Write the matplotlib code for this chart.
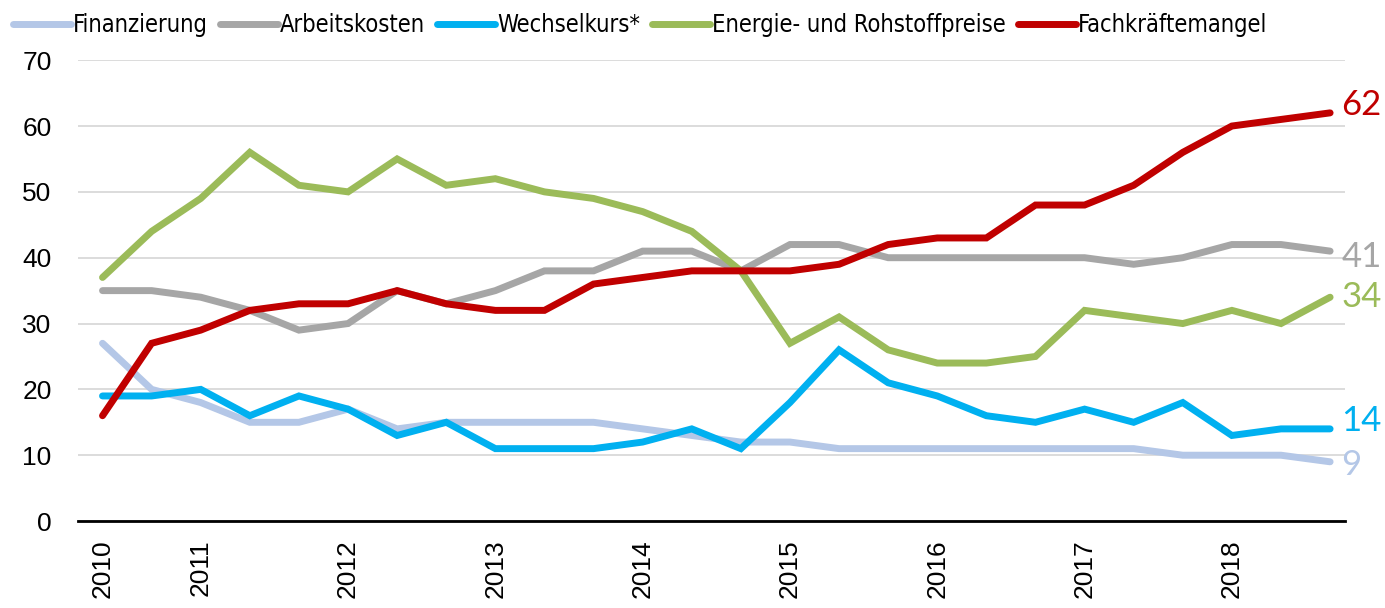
import matplotlib.pyplot as plt
import numpy as np

# survey waves, three per year (2010 has two)
year_labels = ['2010', '2011', '2012', '2013', '2014', '2015', '2016', '2017', '2018']
year_positions = [0, 2, 5, 8, 11, 14, 17, 20, 23]

finanzierung = [27, 20, 18, 15, 15, 17, 14, 15, 15, 15, 15, 14, 13, 12, 12, 11, 11, 11, 11, 11, 11, 11, 10, 10, 10, 9]
arbeitskosten = [35, 35, 34, 32, 29, 30, 35, 33, 35, 38, 38, 41, 41, 38, 42, 42, 40, 40, 40, 40, 40, 39, 40, 42, 42, 41]
wechselkurs = [19, 19, 20, 16, 19, 17, 13, 15, 11, 11, 11, 12, 14, 11, 18, 26, 21, 19, 16, 15, 17, 15, 18, 13, 14, 14]
energie = [37, 44, 49, 56, 51, 50, 55, 51, 52, 50, 49, 47, 44, 38, 27, 31, 26, 24, 24, 25, 32, 31, 30, 32, 30, 34]
fachkraefte = [16, 27, 29, 32, 33, 33, 35, 33, 32, 32, 36, 37, 38, 38, 38, 39, 42, 43, 43, 48, 48, 51, 56, 60, 61, 62]

series = [
    ('Finanzierung', finanzierung, '#B4C7E7', -2),
    ('Arbeitskosten', arbeitskosten, '#A6A6A6', -4),
    ('Wechselkurs*', wechselkurs, '#00B0F0', 6),
    ('Energie- und Rohstoffpreise', energie, '#9BBB59', 0),
    ('Fachkräftemangel', fachkraefte, '#C00000', 6),
]

fig = plt.figure(figsize=(13.85, 6.08), dpi=100)
ax = fig.add_axes([0.0563, 0.143, 0.9147, 0.758])

x = np.arange(len(fachkraefte))
for name, values, color, label_shift in series:
    ax.plot(x, values, color=color, lw=5, solid_capstyle='round', solid_joinstyle='miter', label=name)
    ax.annotate(str(values[-1]), (x[-1], values[-1]), xytext=(8, label_shift), textcoords='offset points',
                color=color, fontsize=25, va='center', ha='left', family=['Lato', 'DejaVu Sans'],
                annotation_clip=False)

ax.set_xlim(-0.5, 25.3)
ax.set_ylim(0, 70)
ax.set_yticks(range(0, 71, 10))
ax.set_xticks(year_positions)
ax.set_xticklabels(year_labels, rotation=90, family=['Liberation Sans', 'DejaVu Sans'], fontsize=19)
for lbl in ax.get_yticklabels():
    lbl.set_fontsize(19)
    lbl.set_family(['Liberation Sans', 'DejaVu Sans'])
ax.tick_params(axis='both', length=0)
ax.tick_params(axis='y', pad=19)
ax.tick_params(axis='x', pad=13)

ax.grid(axis='y', color='#D9D9D9', lw=1.3)
ax.set_axisbelow(True)
for side in ['top', 'right', 'left']:
    ax.spines[side].set_visible(False)
ax.spines['bottom'].set_color('black')
ax.spines['bottom'].set_linewidth(2)
ax.spines['bottom'].set_zorder(3)

fig.legend(loc='upper left', bbox_to_anchor=(0.0, 1.0), ncol=5, frameon=False,
           prop={'family': 'DejaVu Sans', 'stretch': 'condensed', 'size': 17},
           handlelength=2.45, handletextpad=0.1, columnspacing=0.5, borderaxespad=0.15)

plt.savefig('out.png', dpi=100)
